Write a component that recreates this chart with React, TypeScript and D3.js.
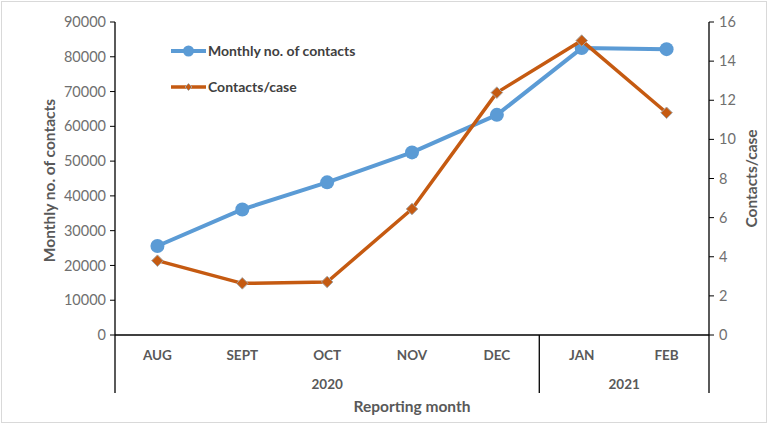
import React, { useEffect, useRef } from 'react';
import * as d3 from 'd3';

const months = ['AUG', 'SEPT', 'OCT', 'NOV', 'DEC', 'JAN', 'FEB'];
const monthYears = ['2020', '2020', '2020', '2020', '2020', '2021', '2021'];
const years = ['2020', '2021'];
const contacts = [25600, 36100, 43900, 52500, 63300, 82500, 82200];
const contactsPerCase = [3.8, 2.64, 2.71, 6.44, 12.39, 15.05, 11.36];
const leftTicks = [0, 10000, 20000, 30000, 40000, 50000, 60000, 70000, 80000, 90000];
const rightTicks = [0, 2, 4, 6, 8, 10, 12, 14, 16];
const seriesNames = ['Monthly no. of contacts', 'Contacts/case'];

const W = 768;
const H = 424;
const FONT = 'Lato, "Open Sans", sans-serif';
const BLUE = '#5B9BD5';
const ORANGE = '#C55A11';
const GREY = '#595959';

const App = () => {
  const ref = useRef<SVGSVGElement>(null);

  useEffect(() => {
    const svg = d3.select(ref.current);
    svg.selectAll('*').remove();

    const left = 115;
    const right = 709;
    const top = 22;
    const bottom = 335;
    const axisEnd = 393;

    const x = d3.scaleBand().domain(months).range([left, right]).paddingInner(0).paddingOuter(0);
    const cx = (m) => x(m) + x.bandwidth() / 2;
    const yL = d3.scaleLinear().domain([0, 90000]).range([bottom, top]);
    const yR = d3.scaleLinear().domain([0, 16]).range([bottom, top]);

    // Outer border
    svg
      .append('rect')
      .attr('x', 1.5)
      .attr('y', 1.5)
      .attr('width', W - 3)
      .attr('height', H - 3)
      .attr('fill', '#fff')
      .attr('stroke', '#d9d9d9');

    // Left axis
    const gl = svg.append('g').attr('transform', `translate(${left},0)`);
    gl.append('line').attr('y1', top).attr('y2', axisEnd).attr('stroke', '#000').attr('stroke-width', 1.3);
    leftTicks.forEach((t) => {
      gl.append('line')
        .attr('x1', -5)
        .attr('x2', 0)
        .attr('y1', yL(t))
        .attr('y2', yL(t))
        .attr('stroke', '#000');
      gl.append('text')
        .attr('x', -9)
        .attr('y', yL(t))
        .attr('dy', '0.35em')
        .attr('text-anchor', 'end')
        .style('font-family', FONT)
        .style('font-size', '14.5px')
        .style('fill', '#6f6f6f')
        .text(t);
    });

    // Right axis
    const gr = svg.append('g').attr('transform', `translate(${right},0)`);
    gr.append('line').attr('y1', top).attr('y2', axisEnd).attr('stroke', '#000').attr('stroke-width', 1.3);
    rightTicks.forEach((t) => {
      gr.append('line')
        .attr('x1', 0)
        .attr('x2', 5)
        .attr('y1', yR(t))
        .attr('y2', yR(t))
        .attr('stroke', '#000');
      gr.append('text')
        .attr('x', 10)
        .attr('y', yR(t))
        .attr('dy', '0.35em')
        .attr('text-anchor', 'start')
        .style('font-family', FONT)
        .style('font-size', '14.5px')
        .style('fill', '#6f6f6f')
        .text(t);
    });

    // Category axis
    svg
      .append('line')
      .attr('x1', left)
      .attr('x2', right)
      .attr('y1', bottom)
      .attr('y2', bottom)
      .attr('stroke', '#000')
      .attr('stroke-width', 1.3);

    months.forEach((m) => {
      svg
        .append('text')
        .attr('x', cx(m))
        .attr('y', 355)
        .attr('dy', '0.35em')
        .attr('text-anchor', 'middle')
        .style('font-family', FONT)
        .style('font-size', '13.5px')
        .style('font-weight', 'bold')
        .style('fill', GREY)
        .text(m);
    });

    years.forEach((yr, i) => {
      const ms = months.filter((_, j) => monthYears[j] === yr);
      const x0 = x(ms[0]);
      const x1 = x(ms[ms.length - 1]) + x.bandwidth();
      if (i > 0) {
        svg
          .append('line')
          .attr('x1', x0)
          .attr('x2', x0)
          .attr('y1', bottom)
          .attr('y2', axisEnd)
          .attr('stroke', '#000')
          .attr('stroke-width', 1.3);
      }
      svg
        .append('text')
        .attr('x', (x0 + x1) / 2)
        .attr('y', 384)
        .attr('dy', '0.35em')
        .attr('text-anchor', 'middle')
        .style('font-family', FONT)
        .style('font-size', '13.5px')
        .style('font-weight', 'bold')
        .style('fill', GREY)
        .text(yr);
    });

    // Axis titles
    svg
      .append('text')
      .attr('x', (left + right) / 2)
      .attr('y', 407)
      .attr('dy', '0.35em')
      .attr('text-anchor', 'middle')
      .style('font-family', FONT)
      .style('font-size', '15.5px')
      .style('font-weight', 'bold')
      .style('fill', GREY)
      .text('Reporting month');

    svg
      .append('text')
      .attr('transform', `translate(50,${(top + bottom) / 2 + 2}) rotate(-90)`)
      .attr('dy', '0.35em')
      .attr('text-anchor', 'middle')
      .style('font-family', FONT)
      .style('font-size', '15.5px')
      .style('font-weight', 'bold')
      .style('fill', GREY)
      .text('Monthly no. of contacts');

    svg
      .append('text')
      .attr('transform', `translate(752,${(top + bottom) / 2}) rotate(-90)`)
      .attr('dy', '0.35em')
      .attr('text-anchor', 'middle')
      .style('font-family', FONT)
      .style('font-size', '15.5px')
      .style('font-weight', 'bold')
      .style('fill', GREY)
      .text('Contacts/case');

    // Series
    const blueLine = d3
      .line<number>()
      .x((_, i) => cx(months[i]))
      .y((d) => yL(d));
    const orangeLine = d3
      .line<number>()
      .x((_, i) => cx(months[i]))
      .y((d) => yR(d));

    svg
      .append('path')
      .datum(contacts)
      .attr('fill', 'none')
      .attr('stroke', BLUE)
      .attr('stroke-width', 4)
      .attr('stroke-linejoin', 'round')
      .attr('d', blueLine);

    svg
      .selectAll('.dot')
      .data(contacts)
      .enter()
      .append('circle')
      .attr('class', 'dot')
      .attr('cx', (_, i) => cx(months[i]))
      .attr('cy', (d) => yL(d))
      .attr('r', 7)
      .attr('fill', BLUE);

    svg
      .append('path')
      .datum(contactsPerCase)
      .attr('fill', 'none')
      .attr('stroke', ORANGE)
      .attr('stroke-width', 3.5)
      .attr('stroke-linejoin', 'round')
      .attr('d', orangeLine);

    const diamond = d3.symbol().type(d3.symbolDiamond2).size(85);
    svg
      .selectAll('.diamond')
      .data(contactsPerCase)
      .enter()
      .append('path')
      .attr('class', 'diamond')
      .attr('transform', (d, i) => `translate(${cx(months[i])},${yR(d)})`)
      .attr('d', diamond)
      .attr('fill', ORANGE)
      .attr('stroke', '#a6a6a6')
      .attr('stroke-width', 1);

    // Legend
    const legendY = [51, 87];
    const legendColors = [BLUE, ORANGE];
    seriesNames.forEach((name, i) => {
      const g = svg.append('g').attr('transform', `translate(171,${legendY[i]})`);
      g.append('line')
        .attr('x1', 0)
        .attr('x2', 35)
        .attr('stroke', legendColors[i])
        .attr('stroke-width', i === 0 ? 4 : 3.5);
      if (i === 0) {
        g.append('circle').attr('cx', 17.5).attr('r', 5.5).attr('fill', BLUE);
      } else {
        g.append('path')
          .attr('transform', 'translate(17.5,0)')
          .attr('d', d3.symbol().type(d3.symbolDiamond2).size(30))
          .attr('fill', ORANGE)
          .attr('stroke', '#a6a6a6');
      }
      g.append('text')
        .attr('x', 37)
        .attr('dy', '0.35em')
        .style('font-family', FONT)
        .style('font-size', '14px')
        .style('font-weight', 'bold')
        .style('fill', '#404040')
        .text(name);
    });
  }, []);

  return (
    <div style={{ position: 'absolute', left: 0, top: 0 }}>
      <svg ref={ref} width={W} height={H} style={{ display: 'block' }} />
    </div>
  );
};

export default App;
